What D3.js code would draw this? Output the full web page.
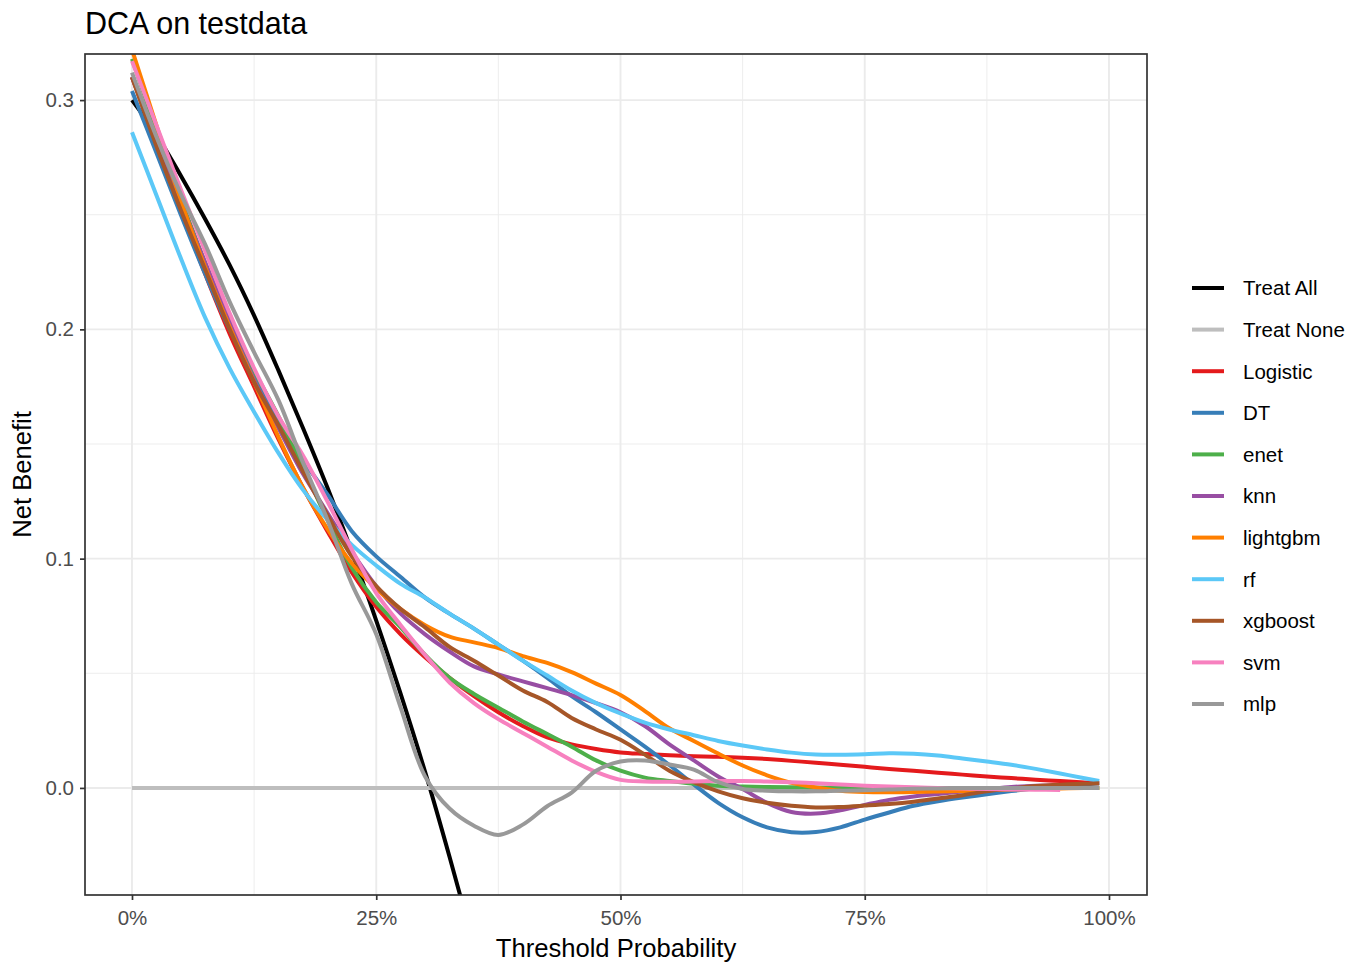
<!DOCTYPE html>
<html>
<head>
<meta charset="utf-8">
<script src="https://cdn.jsdelivr.net/npm/d3@7"></script>
<style>
  html, body { margin: 0; padding: 0; background: #ffffff; }
  svg { display: block; }
  text { font-family: "Liberation Sans", Arial, sans-serif; }
</style>
</head>
<body>
<svg id="chart" width="1362" height="962"></svg>
<script>
// ---------------- DATA ----------------
const title = "DCA on testdata";
const xLabel = "Threshold Probability";
const yLabel = "Net Benefit";

const thresholds = [0,0.025,0.05,0.075,0.1,0.125,0.15,0.175,0.2,0.225,0.25,0.275,0.3,0.325,0.35,0.375,0.4,0.425,0.45,0.475,0.5,0.525,0.55,0.575,0.6,0.625,0.65,0.675,0.7,0.725,0.75,0.775,0.8,0.825,0.85,0.875,0.9,0.925,0.95,0.975,0.99];

const seriesNames = ["Treat All","Treat None","Logistic","DT","enet","knn","lightgbm","rf","xgboost","svm","mlp"];
const seriesColors = ["#000000","#BEBEBE","#E41A1C","#377EB8","#4DAF4A","#984EA3","#FF7F00","#5BC8F7","#A65628","#F781BF","#999999"];

const treatAll = [0.300,0.285,0.267,0.248,0.228,0.206,0.182,0.157,0.131,0.103,0.073,0.041,0.007,-0.030,-0.069,null,null,null,null,null,null,null,null,null,null,null,null,null,null,null,null,null,null,null,null,null,null,null,null,null,null];
const treatNone = [0,0,0,0,0,0,0,0,0,0,0,0,0,0,0,0,0,0,0,0,0,0,0,0,0,0,0,0,0,0,0,0,0,0,0,0,0,0,0,0,0];
const logistic = [0.310,0.281,0.252,0.224,0.198,0.175,0.152,0.131,0.112,0.094,0.079,0.067,0.057,0.048,0.040,0.033,0.027,0.022,0.019,0.017,0.0155,0.0148,0.0142,0.0138,0.0136,0.0132,0.0126,0.0118,0.0110,0.0101,0.0092,0.0083,0.0075,0.0066,0.0058,0.0050,0.0043,0.0036,0.0030,0.0024,0.0020];
const dt = [0.304,0.277,0.250,0.224,0.200,0.180,0.160,0.143,0.128,0.112,0.101,0.092,0.083,0.076,0.0695,0.0625,0.0555,0.048,0.040,0.033,0.0255,0.018,0.010,0.0015,-0.0065,-0.0128,-0.0172,-0.0193,-0.0192,-0.0172,-0.0138,-0.0107,-0.0078,-0.0058,-0.0042,-0.0028,-0.0014,-0.0002,0.0008,0.0015,0.0020];
const enet = [0.318,0.287,0.257,0.229,0.204,0.182,0.162,0.140,0.117,0.096,0.081,0.070,0.058,0.048,0.041,0.035,0.029,0.0235,0.018,0.012,0.0075,0.0045,0.0030,0.0018,0.0010,0.0006,0.0004,0.0003,0.0002,0.0001,0,0,0,0,0,0,0,0,0,0,0];
const knn = [0.310,0.282,0.255,0.229,0.203,0.178,0.157,0.137,0.120,0.103,0.088,0.076,0.067,0.0595,0.053,0.0495,0.0465,0.0435,0.0405,0.037,0.033,0.027,0.019,0.012,0.005,-0.0005,-0.0065,-0.0105,-0.0112,-0.0098,-0.0074,-0.0052,-0.0037,-0.0026,-0.0016,-0.0006,0.0004,0.0010,0.0012,null,null];
const lightgbm = [0.322,0.289,0.256,0.227,0.201,0.177,0.153,0.131,0.113,0.098,0.087,0.078,0.071,0.066,0.0635,0.061,0.0575,0.0545,0.0505,0.0455,0.0405,0.0335,0.026,0.0205,0.015,0.0098,0.0055,0.0022,0.0002,-0.0012,-0.0018,-0.0019,-0.0018,-0.0016,-0.0013,-0.0010,-0.0007,-0.0004,-0.0002,0,0];
const rf = [0.286,0.2585,0.231,0.205,0.183,0.164,0.146,0.130,0.117,0.106,0.097,0.089,0.083,0.076,0.0695,0.0625,0.0555,0.049,0.0425,0.037,0.0325,0.0285,0.0255,0.023,0.0205,0.0185,0.0168,0.0154,0.0146,0.0145,0.0147,0.0151,0.0149,0.0141,0.0128,0.0115,0.0101,0.0083,0.0063,0.0042,0.0030];
const xgboost = [0.310,0.280,0.252,0.226,0.200,0.177,0.158,0.138,0.119,0.101,0.088,0.078,0.070,0.0615,0.0555,0.049,0.0425,0.0375,0.0305,0.0255,0.021,0.0145,0.0075,0.0025,-0.0015,-0.0045,-0.0065,-0.0078,-0.0085,-0.0083,-0.0077,-0.0070,-0.0060,-0.0046,-0.0032,-0.0015,-0.0002,0.0008,0.0014,0.0018,0.0020];
const svm = [0.317,0.289,0.261,0.234,0.207,0.183,0.162,0.145,0.125,0.104,0.085,0.071,0.058,0.046,0.037,0.030,0.024,0.018,0.012,0.007,0.0035,0.0028,0.0027,0.0028,0.0030,0.0030,0.0028,0.0025,0.0020,0.0015,0.0010,0.0006,0.0003,0,-0.0003,-0.0005,-0.0007,-0.0008,-0.0009,null,null];
const mlp = [0.312,0.284,0.259,0.237,0.212,0.190,0.169,0.142,0.117,0.089,0.067,0.035,0.005,-0.009,-0.0165,-0.0205,-0.016,-0.008,-0.002,0.0075,0.0115,0.012,0.0102,0.008,0.0025,-0.0005,-0.0012,-0.0015,-0.0015,-0.0012,-0.0010,-0.0007,-0.0004,-0.0002,0,0,0,0,0,0,0];

const seriesValues = [treatAll, treatNone, logistic, dt, enet, knn, lightgbm, rf, xgboost, svm, mlp];

const xTicks = [0, 0.25, 0.5, 0.75, 1];
const xTickLabels = ["0%","25%","50%","75%","100%"];
const xMinor = [0.125, 0.375, 0.625, 0.875];
const yTicks = [0, 0.1, 0.2, 0.3];
const yTickLabels = ["0.0","0.1","0.2","0.3"];
const yMinor = [0.05, 0.15, 0.25];

// ---------------- LAYOUT ----------------
const svg = d3.select("#chart");
const panel = { left: 85, right: 1147, top: 54, bottom: 895 };

const x = d3.scaleLinear().domain([-0.0481, 1.0389]).range([panel.left, panel.right]);
const y = d3.scaleLinear().domain([-0.0467, 0.3201]).range([panel.bottom, panel.top]);

svg.append("rect")
  .attr("x", panel.left).attr("y", panel.top)
  .attr("width", panel.right - panel.left).attr("height", panel.bottom - panel.top)
  .attr("fill", "#ffffff");

const grid = svg.append("g");
grid.selectAll("line.xminor").data(xMinor).join("line")
  .attr("x1", d => x(d)).attr("x2", d => x(d))
  .attr("y1", panel.top).attr("y2", panel.bottom)
  .attr("stroke", "#EBEBEB").attr("stroke-width", 0.9);
grid.selectAll("line.yminor").data(yMinor).join("line")
  .attr("y1", d => y(d)).attr("y2", d => y(d))
  .attr("x1", panel.left).attr("x2", panel.right)
  .attr("stroke", "#EBEBEB").attr("stroke-width", 0.9);
grid.selectAll("line.xmajor").data(xTicks).join("line")
  .attr("x1", d => x(d)).attr("x2", d => x(d))
  .attr("y1", panel.top).attr("y2", panel.bottom)
  .attr("stroke", "#EBEBEB").attr("stroke-width", 1.9);
grid.selectAll("line.ymajor").data(yTicks).join("line")
  .attr("y1", d => y(d)).attr("y2", d => y(d))
  .attr("x1", panel.left).attr("x2", panel.right)
  .attr("stroke", "#EBEBEB").attr("stroke-width", 1.9);

svg.append("defs").append("clipPath").attr("id", "clip")
  .append("rect")
  .attr("x", panel.left).attr("y", panel.top)
  .attr("width", panel.right - panel.left).attr("height", panel.bottom - panel.top);

const line = d3.line()
  .defined(d => d[1] !== null)
  .x(d => x(d[0]))
  .y(d => y(d[1]))
  .curve(d3.curveCatmullRom.alpha(0.5));

const linesG = svg.append("g").attr("clip-path", "url(#clip)");
seriesNames.forEach((name, i) => {
  const pts = thresholds.map((t, j) => [t, seriesValues[i][j]]);
  linesG.append("path")
    .datum(pts)
    .attr("d", line)
    .attr("fill", "none")
    .attr("stroke", seriesColors[i])
    .attr("stroke-width", 4)
    .attr("stroke-linejoin", "round")
    .attr("stroke-linecap", "butt");
});

svg.append("rect")
  .attr("x", panel.left).attr("y", panel.top)
  .attr("width", panel.right - panel.left).attr("height", panel.bottom - panel.top)
  .attr("fill", "none").attr("stroke", "#333333").attr("stroke-width", 1.7);

const xAxis = d3.axisBottom(x).tickValues(xTicks).tickFormat((d, i) => xTickLabels[i]).tickSize(5).tickPadding(6);
const yAxis = d3.axisLeft(y).tickValues(yTicks).tickFormat((d, i) => yTickLabels[i]).tickSize(5).tickPadding(6);

const gx = svg.append("g").attr("transform", `translate(0,${panel.bottom})`).call(xAxis);
const gy = svg.append("g").attr("transform", `translate(${panel.left},0)`).call(yAxis);
[gx, gy].forEach(g => {
  g.select(".domain").remove();
  g.selectAll(".tick line").attr("stroke", "#333333").attr("stroke-width", 1.7);
  g.selectAll(".tick text")
    .attr("fill", "#4D4D4D")
    .style("font-family", "'Liberation Sans', Arial, sans-serif")
    .style("font-size", "20.5px");
});
gx.selectAll(".tick text").attr("dy", "0.72em").attr("y", 15);
gy.selectAll(".tick text").attr("x", -11);

svg.append("text")
  .attr("x", panel.left).attr("y", 34)
  .attr("fill", "#000000")
  .style("font-size", "30.5px")
  .text(title);

svg.append("text")
  .attr("x", (panel.left + panel.right) / 2).attr("y", 957)
  .attr("text-anchor", "middle")
  .attr("fill", "#000000")
  .style("font-size", "25.6px")
  .text(xLabel);

svg.append("text")
  .attr("transform", `translate(31,${(panel.top + panel.bottom) / 2}) rotate(-90)`)
  .attr("text-anchor", "middle")
  .attr("fill", "#000000")
  .style("font-size", "25.6px")
  .text(yLabel);

const legend = svg.append("g");
seriesNames.forEach((name, i) => {
  const ly = 288 + i * 41.6;
  legend.append("line")
    .attr("x1", 1192).attr("x2", 1224)
    .attr("y1", ly).attr("y2", ly)
    .attr("stroke", seriesColors[i]).attr("stroke-width", 4);
  legend.append("text")
    .attr("x", 1243).attr("y", ly)
    .attr("dy", "0.36em")
    .attr("fill", "#000000")
    .style("font-size", "20.5px")
    .text(name);
});
</script>
</body>
</html>
